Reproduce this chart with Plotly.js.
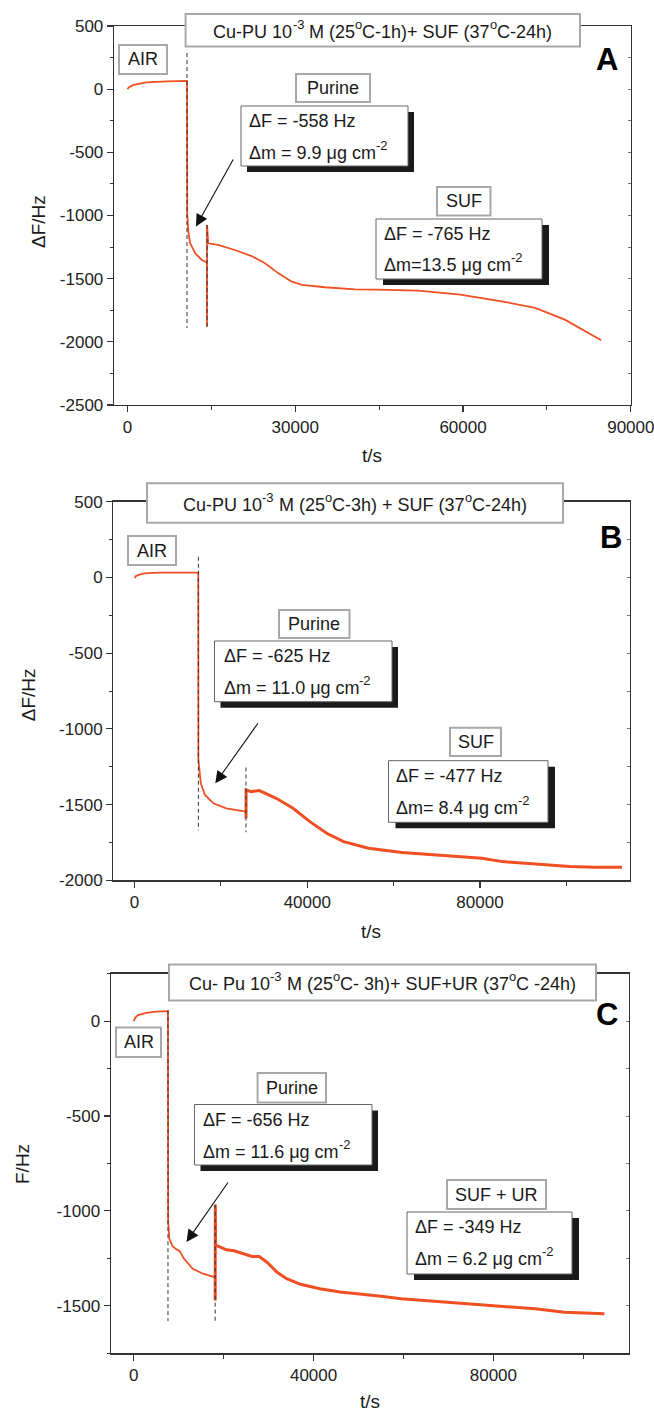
<!DOCTYPE html>
<html>
<head>
<meta charset="utf-8">
<script src="https://cdn.plot.ly/plotly-3.0.1.min.js"></script>
<style>html,body{margin:0;padding:0;background:#fff;}#chart{width:654px;height:1411px;}</style>
</head>
<body>
<div id="chart"></div>
<script>
// ---------------- DATA ----------------
// Panel A: Cu-PU 10^-3 M (25°C-1h) + SUF (37°C-24h)
const timeA_purine = [0, 300, 1100, 3400, 7100, 10650, 10700, 10900, 11200, 12100, 13300, 14200];
const dfA_purine   = [0, 15, 34, 53, 61, 66, -1000, -1130, -1218, -1297, -1352, -1372];
const timeA_suf = [14220, 14225, 14235, 14450, 16200, 19200, 22200, 24600, 27000, 29400, 31200, 35300, 40700, 44500, 52000, 59500, 66900, 72900, 78200, 84700];
const dfA_suf   = [-1372, -1880, -1075, -1220, -1233, -1273, -1321, -1378, -1458, -1524, -1550, -1568, -1584, -1587, -1595, -1627, -1679, -1732, -1824, -1988];
const injA = [10650, 14220];
const dashA = [[286, -1891], [-1075, -1880]];
const xTickValsA = [0, 30000, 60000, 90000];
const xTickTextA = ['0', '30000', '60000', '90000'];
const yTickValsA = [500, 0, -500, -1000, -1500, -2000, -2500];
const yTickTextA = ['500', '0', '-500', '-1000', '-1500', '-2000', '-2500'];

// Panel B: Cu-PU 10^-3 M (25°C-3h) + SUF (37°C-24h)
const timeB_purine = [0, 300, 780, 2200, 5600, 14750, 14780, 14950, 15340, 16300, 18250, 21200, 25800];
const dfB_purine   = [-5, 8, 15, 26, 31, 31, -1205, -1271, -1359, -1436, -1491, -1524, -1546];
const timeB_suf = [25800, 25810, 25830, 27000, 28900, 32800, 36700, 40600, 44500, 48400, 54200, 61900, 69700, 75500, 80400, 85200, 93000, 100800, 106600, 112900];
const dfB_suf   = [-1546, -1590, -1403, -1414, -1407, -1458, -1524, -1612, -1689, -1744, -1788, -1816, -1832, -1843, -1854, -1876, -1893, -1909, -1913, -1913];
const injB = [14780, 25800];
const dashB = [[136, -1670], [-1255, -1682]];
const xTickValsB = [0, 40000, 80000];
const xTickTextB = ['0', '40000', '80000'];
const yTickValsB = [500, 0, -500, -1000, -1500, -2000];
const yTickTextB = ['500', '0', '-500', '-1000', '-1500', '-2000'];

// Panel C: Cu-Pu 10^-3 M (25°C-3h) + SUF+UR (37°C-24h)
const timeC_purine = [0, 300, 930, 2790, 5000, 7600, 7650, 7900, 8600, 9300, 10200, 11100, 13100, 15400, 18100];
const dfC_purine   = [0, 18, 32, 44, 50, 53, -1060, -1147, -1185, -1200, -1212, -1250, -1305, -1331, -1350];
const timeC_suf = [18100, 18110, 18130, 18200, 18600, 20600, 22300, 24500, 26300, 27900, 29700, 31800, 34000, 37100, 41400, 45900, 50300, 55000, 59500, 67000, 74400, 81900, 89300, 95800, 101000, 104700];
const dfC_suf   = [-1350, -1472, -967, -1180, -1185, -1205, -1210, -1225, -1240, -1240, -1272, -1322, -1357, -1387, -1410, -1428, -1438, -1450, -1463, -1477, -1490, -1504, -1516, -1534, -1540, -1542];
const injC = [7600, 18100];
const dashC = [[58, -1581], [-967, -1581]];
const xTickValsC = [0, 40000, 80000];
const xTickTextC = ['0', '40000', '80000'];
const yTickValsC = [0, -500, -1000, -1500];
const yTickTextC = ['0', '-500', '-1000', '-1500'];

// Texts (^{...} marks a superscript)
const panelLetters = ['A', 'B', 'C'];
const panelTitles = [
  'Cu-PU 10^{-3} M (25^{o}C-1h)+ SUF (37^{o}C-24h)',
  'Cu-PU 10^{-3} M (25^{o}C-3h) + SUF (37^{o}C-24h)',
  'Cu- Pu 10^{-3} M (25^{o}C- 3h)+ SUF+UR (37^{o}C -24h)'
];
const yTitles = ['\u0394F/Hz', '\u0394F/Hz', 'F/Hz'];
const xTitle = 't/s';
const stage1Label = 'Purine';
const stage0Label = 'AIR';
const stage2Labels = ['SUF', 'SUF', 'SUF + UR'];
const purineDF = ['\u0394F = -558 Hz', '\u0394F = -625 Hz', '\u0394F = -656 Hz'];
const purineDM = ['\u0394m = 9.9 \u03bcg cm^{-2}', '\u0394m = 11.0 \u03bcg cm^{-2}', '\u0394m = 11.6 \u03bcg cm^{-2}'];
const stage2DF = ['\u0394F = -765 Hz', '\u0394F = -477 Hz', '\u0394F = -349 Hz'];
const stage2DM = ['\u0394m=13.5 \u03bcg cm^{-2}', '\u0394m= 8.4 \u03bcg cm^{-2}', '\u0394m = 6.2 \u03bcg cm^{-2}'];

// ---------------- LAYOUT HELPERS ----------------
const W = 654, H = 1411;
const X = p => p / W;
const Y = p => 1 - p / H;
const FONT = 'Liberation Sans, Arial, Helvetica, sans-serif';
const RED = '#f04e23';
const AX = '#333333';

const panels = [
  { // A
    dom: [114, 631, 26, 405], xr: [-2400, 90030], yr: [-2500, 500], xdt: 30000, ydt: 500,
    xtv: xTickValsA, xtt: xTickTextA, ytv: yTickValsA, ytt: yTickTextA,
    title: [185.6, 580, 14, 46.6], letter: [606.7, 60],
    air: [119, 167, 45, 74], pur: [296, 370, 74, 102],
    box1: [241, 408, 106, 166], box1txt: [249, 121, 153],
    arrow: [196, 226.5, 234, 158],
    s2: [437, 490.5, 187, 215.5], box2: [376, 542, 219, 279], box2txt: [384, 234, 265],
    ytitle: [38.3, 221.7], xtitle: [372, 456],
    t1: timeA_purine, d1: dfA_purine, t2: timeA_suf, d2: dfA_suf, w2: 1.8, inj: injA, dash: dashA
  },
  { // B
    dom: [113.3, 629.8, 501.6, 880.4], xr: [-4930, 114700], yr: [-2000, 500], xdt: 40000, ydt: 500,
    xtv: xTickValsB, xtt: xTickTextB, ytv: yTickValsB, ytt: yTickTextB,
    title: [147, 563, 483.3, 522.7], letter: [610.5, 537],
    air: [128, 176, 536, 565], pur: [279, 349.5, 610, 638],
    box1: [214.5, 392, 641, 701.7], box1txt: [223.5, 656, 688],
    arrow: [215.3, 783.3, 259, 721.7],
    s2: [450, 501, 727.7, 756], box2: [388.5, 548, 760.7, 822.3], box2txt: [396, 776, 808],
    ytitle: [28.3, 695], xtitle: [371, 931.7],
    t1: timeB_purine, d1: dfB_purine, t2: timeB_suf, d2: dfB_suf, w2: 3, inj: injB, dash: dashB
  },
  { // C
    dom: [110.8, 628.5, 973.7, 1353.2], xr: [-5120, 110060], yr: [-1750, 250], xdt: 40000, ydt: 500,
    xtv: xTickValsC, xtt: xTickTextC, ytv: yTickValsC, ytt: yTickTextC,
    title: [169, 596, 964.4, 1000.4], letter: [607, 1014],
    air: [116, 161, 1027.5, 1057], pur: [257.6, 326, 1073, 1102.6],
    box1: [194.5, 372, 1104.5, 1165], box1txt: [203, 1120, 1151.7],
    arrow: [186.5, 1242, 229, 1181],
    s2: [447, 546, 1180, 1209], box2: [407, 572, 1212, 1274], box2txt: [415, 1226.7, 1259.3],
    ytitle: [22, 1164], xtitle: [370, 1401],
    t1: timeC_purine, d1: dfC_purine, t2: timeC_suf, d2: dfC_suf, w2: 3, inj: injC, dash: dashC
  }
];

const data = [];
const layout = {
  width: W, height: H,
  margin: {l: 0, r: 0, t: 0, b: 0},
  paper_bgcolor: '#fff', plot_bgcolor: '#fff',
  showlegend: false,
  font: {family: FONT, color: '#222', size: 17},
  shapes: [], annotations: []
};

function rect(b, fill, lc, lw) {
  return {type: 'rect', xref: 'paper', yref: 'paper', layer: 'above',
    x0: X(b[0]), x1: X(b[1]), y0: Y(b[3]), y1: Y(b[2]),
    fillcolor: fill, line: {color: lc, width: lw}};
}
function txt(x, y, text, size, opts) {
  return Object.assign({xref: 'paper', yref: 'paper', x: X(x), y: Y(y), text: text, showarrow: false,
    xanchor: 'center', yanchor: 'middle', font: {family: FONT, size: size, color: '#1a1a1a'}}, opts || {});
}

// text measuring for rich (superscript) texts laid out as separate pieces
const ctx = document.createElement('canvas').getContext('2d');
function tw(s, size) { ctx.font = size + 'px "Liberation Sans", Arial, sans-serif'; return ctx.measureText(s).width; }
function parseRich(str) {
  const segs = [];
  const re = /\^\{([^}]*)\}/g;
  let last = 0, m;
  while ((m = re.exec(str)) !== null) {
    if (m.index > last) segs.push([str.slice(last, m.index), false]);
    segs.push([m[1], true]);
    last = re.lastIndex;
  }
  if (last < str.length) segs.push([str.slice(last), false]);
  return segs;
}
function rich(str, x, y, size, anchor) {
  const segs = parseRich(str);
  const supSize = Math.round(size * 0.72);
  const widths = segs.map(([t, s]) => tw(t, s ? supSize : size));
  const total = widths.reduce((a, b) => a + b, 0);
  let cur = anchor === 'center' ? x - total / 2 : x;
  segs.forEach(([t, s], k) => {
    const sz = s ? supSize : size;
    const lead = t.length - t.replace(/^\s+/, '').length;
    const trimmed = t.trim();
    if (trimmed) {
      layout.annotations.push({xref: 'paper', yref: 'paper', showarrow: false,
        x: X(cur + tw(t.slice(0, lead), sz)), y: Y(s ? y - 0.42 * size : y),
        xanchor: 'left', yanchor: 'middle', text: trimmed, borderpad: 0, borderwidth: 0,
        font: {family: FONT, size: sz, color: '#1a1a1a'}});
    }
    cur += widths[k];
  });
}

panels.forEach((p, i) => {
  const n = i + 1;
  const xa = n === 1 ? 'x' : 'x' + n;
  const ya = n === 1 ? 'y' : 'y' + n;
  const yo = 'y' + (n + 3);
  data.push({type: 'scatter', mode: 'lines', x: p.t1, y: p.d1, xaxis: xa, yaxis: ya,
    line: {color: RED, width: 1.8}, hoverinfo: 'skip'});
  data.push({type: 'scatter', mode: 'lines', x: p.t2, y: p.d2, xaxis: xa, yaxis: ya,
    line: {color: RED, width: p.w2}, hoverinfo: 'skip'});
  data.push({type: 'scatter', mode: 'lines', x: [], y: [], xaxis: xa, yaxis: yo, hoverinfo: 'skip'});

  const xdom = [X(p.dom[0]), X(p.dom[1])];
  const ydom = [Y(p.dom[3]), Y(p.dom[2])];
  const tf = {size: 17, color: '#222', family: FONT};
  layout['xaxis' + (n === 1 ? '' : n)] = {
    domain: xdom, anchor: ya, range: p.xr, tickmode: 'array', tickvals: p.xtv, ticktext: p.xtt,
    ticklabeloverflow: 'allow',
    showline: true, linecolor: AX, linewidth: 1.3, mirror: true,
    ticks: 'outside', ticklen: 6, tickwidth: 1.2, tickcolor: AX,
    minor: {ticks: 'outside', ticklen: 4, dtick: p.xdt / 2, tick0: 0, tickcolor: AX, tickwidth: 1, showgrid: false},
    showgrid: false, zeroline: false, tickfont: tf, fixedrange: true
  };
  layout['yaxis' + (n === 1 ? '' : n)] = {
    domain: ydom, anchor: xa, range: p.yr, tickmode: 'array', tickvals: p.ytv, ticktext: p.ytt,
    ticklabeloverflow: 'allow',
    showline: true, linecolor: AX, linewidth: 1.3, mirror: true,
    ticks: 'outside', ticklen: 6, tickwidth: 1.2, tickcolor: AX,
    minor: {ticks: 'outside', ticklen: 3, dtick: p.ydt / 2, tick0: 0, tickcolor: AX, tickwidth: 1, showgrid: false},
    showgrid: false, zeroline: false, tickfont: tf, fixedrange: true
  };
  layout['yaxis' + (n + 3)] = {
    overlaying: ya, anchor: xa, side: 'right', range: p.yr, dtick: p.ydt / 2, tick0: 0,
    showline: false, ticks: 'inside', ticklen: 3, tickwidth: 1, tickcolor: '#777',
    showticklabels: false, showgrid: false, zeroline: false, fixedrange: true
  };

  p.inj.forEach((t, k) => {
    layout.shapes.push({type: 'line', xref: xa, yref: ya, layer: 'above',
      x0: t, x1: t, y0: p.dash[k][0], y1: p.dash[k][1],
      line: {color: '#333', width: 1, dash: '4px,3px'}});
  });

  layout.shapes.push(rect(p.title, '#ffffff', '#a8a8a8', 2));
  layout.shapes.push(rect(p.air, '#ffffff', '#a8a8a8', 2));
  layout.shapes.push(rect(p.pur, '#ffffff', '#a8a8a8', 2));
  layout.shapes.push(rect(p.s2, '#ffffff', '#a8a8a8', 2));
  const sh1 = [p.box1[0] + 6, p.box1[1] + 6, p.box1[2] + 6, p.box1[3] + 6];
  const sh2 = [p.box2[0] + 7, p.box2[1] + 7, p.box2[2] + 6, p.box2[3] + 6];
  layout.shapes.push(rect(sh1, '#1a1a1a', '#1a1a1a', 0));
  layout.shapes.push(rect(p.box1, '#ffffff', '#666666', 1));
  layout.shapes.push(rect(sh2, '#1a1a1a', '#1a1a1a', 0));
  layout.shapes.push(rect(p.box2, '#ffffff', '#666666', 1));

  const A = layout.annotations;
  rich(panelTitles[i], (p.title[0] + p.title[1]) / 2, (p.title[2] + p.title[3]) / 2 + 2, 18, 'center');
  A.push(txt(p.letter[0], p.letter[1], '<b>' + panelLetters[i] + '</b>', 31, {font: {family: FONT, size: 31, color: '#000'}}));
  A.push(txt((p.air[0] + p.air[1]) / 2, (p.air[2] + p.air[3]) / 2, stage0Label, 18));
  A.push(txt((p.pur[0] + p.pur[1]) / 2, (p.pur[2] + p.pur[3]) / 2, stage1Label, 18));
  A.push(txt((p.s2[0] + p.s2[1]) / 2, (p.s2[2] + p.s2[3]) / 2, stage2Labels[i], 18));
  rich(purineDF[i], p.box1txt[0], p.box1txt[1], 18, 'left');
  rich(purineDM[i], p.box1txt[0], p.box1txt[2], 18, 'left');
  rich(stage2DF[i], p.box2txt[0], p.box2txt[1], 18, 'left');
  rich(stage2DM[i], p.box2txt[0], p.box2txt[2], 18, 'left');
  A.push(txt(p.ytitle[0], p.ytitle[1], yTitles[i], 19, {textangle: -90}));
  A.push(txt(p.xtitle[0], p.xtitle[1], xTitle, 19));
  A.push({xref: 'paper', yref: 'paper', x: X(p.arrow[0]), y: Y(p.arrow[1]), text: '',
    showarrow: true, arrowhead: 2, arrowsize: 2.2, arrowwidth: 1.1, arrowcolor: '#111',
    ax: p.arrow[2] - p.arrow[0], ay: p.arrow[3] - p.arrow[1], standoff: 0});
});

Plotly.newPlot('chart', data, layout, {staticPlot: true, displayModeBar: false});
</script>
</body>
</html>
